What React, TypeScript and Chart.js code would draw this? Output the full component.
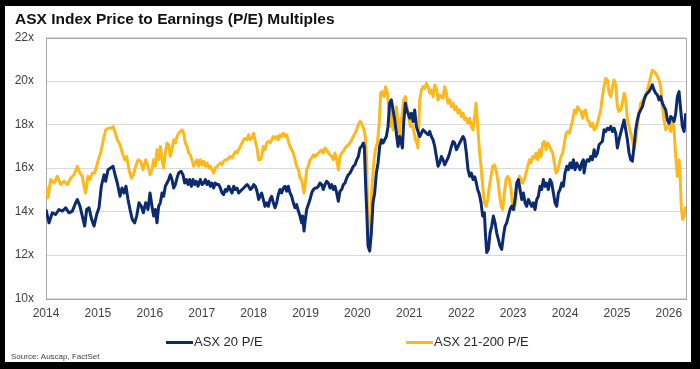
import React, { useEffect, useRef } from "react";
import { Chart, registerables } from "chart.js";

Chart.register(...registerables);

const TITLE = "ASX Index Price to Earnings (P/E) Multiples";
const SOURCE = "Source: Auscap, FactSet";
const SERIES_NAMES = ["ASX 20 P/E", "ASX 21-200 P/E"];
const SERIES_COLORS = ["#0c2a6e", "#ffb81c"];
const YEAR_TICKS = [2014, 2015, 2016, 2017, 2018, 2019, 2020, 2021, 2022, 2023, 2024, 2025, 2026];
const PE_TICKS = [10, 12, 14, 16, 18, 20, 22];
const LAST_DATE = 2026.33;

// [decimal year, P/E multiple]
const asx20: [number, number][] = [
  [2014.0, 14.09], [2014.058, 13.48], [2014.122, 13.94], [2014.186, 13.86], [2014.25, 14.09], [2014.315, 14.02],
  [2014.379, 14.17], [2014.443, 13.94], [2014.507, 14.02], [2014.572, 14.4], [2014.604, 14.55], [2014.655, 14.24],
  [2014.7, 13.79], [2014.745, 13.33], [2014.784, 14.09], [2014.829, 14.17], [2014.88, 13.63], [2014.925, 13.33],
  [2014.976, 13.86], [2015.021, 14.17], [2015.066, 15.16], [2015.118, 15.69], [2015.15, 15.39], [2015.195, 15.92],
  [2015.246, 16.0], [2015.291, 16.08], [2015.33, 15.69], [2015.374, 15.31], [2015.426, 14.7], [2015.464, 15.08],
  [2015.503, 14.85], [2015.541, 15.16], [2015.58, 14.55], [2015.619, 14.09], [2015.663, 13.63], [2015.708, 13.48],
  [2015.747, 13.79], [2015.792, 14.4], [2015.837, 14.24], [2015.875, 13.94], [2015.92, 14.4], [2015.965, 14.09],
  [2016.004, 14.85], [2016.042, 14.24], [2016.074, 13.79], [2016.106, 14.09], [2016.138, 13.48], [2016.17, 14.24],
  [2016.203, 14.4], [2016.235, 14.85], [2016.267, 14.7], [2016.299, 15.16], [2016.331, 15.31], [2016.363, 15.47],
  [2016.395, 15.69], [2016.427, 15.47], [2016.459, 15.08], [2016.492, 15.24], [2016.524, 15.54], [2016.556, 15.77],
  [2016.601, 15.85], [2016.639, 15.69], [2016.671, 15.31], [2016.704, 15.47], [2016.736, 15.24], [2016.768, 15.47],
  [2016.8, 15.16], [2016.832, 15.47], [2016.864, 15.24], [2016.896, 15.39], [2016.928, 15.16], [2016.973, 15.47],
  [2017.005, 15.24], [2017.038, 15.31], [2017.07, 15.47], [2017.102, 15.24], [2017.134, 15.39], [2017.166, 15.16],
  [2017.198, 15.31], [2017.23, 15.08], [2017.262, 15.31], [2017.294, 15.24], [2017.327, 15.24], [2017.359, 15.08],
  [2017.391, 14.85], [2017.423, 14.78], [2017.455, 15.01], [2017.487, 14.93], [2017.519, 15.16], [2017.551, 15.01],
  [2017.583, 14.85], [2017.616, 15.16], [2017.648, 15.01], [2017.68, 15.08], [2017.712, 14.85], [2017.744, 14.93],
  [2017.776, 15.01], [2017.808, 15.08], [2017.84, 15.16], [2017.872, 15.24], [2017.904, 15.16], [2017.937, 15.01],
  [2017.969, 15.08], [2018.001, 15.24], [2018.033, 15.16], [2018.065, 14.93], [2018.097, 14.55], [2018.123, 14.7],
  [2018.155, 14.85], [2018.187, 14.55], [2018.219, 14.24], [2018.251, 14.4], [2018.284, 14.24], [2018.316, 14.55],
  [2018.348, 14.7], [2018.38, 14.4], [2018.412, 14.17], [2018.444, 14.4], [2018.476, 14.78], [2018.508, 15.01],
  [2018.54, 14.85], [2018.573, 15.08], [2018.605, 15.16], [2018.637, 14.93], [2018.669, 15.16], [2018.701, 14.85],
  [2018.733, 14.7], [2018.765, 14.4], [2018.797, 14.17], [2018.829, 14.32], [2018.862, 14.02], [2018.894, 13.79],
  [2018.926, 13.48], [2018.945, 13.79], [2018.971, 13.1], [2018.996, 13.63], [2019.022, 14.09], [2019.054, 14.32],
  [2019.086, 14.55], [2019.118, 14.85], [2019.151, 15.01], [2019.183, 15.08], [2019.215, 15.08], [2019.247, 15.16],
  [2019.279, 15.31], [2019.311, 15.24], [2019.343, 15.01], [2019.375, 15.24], [2019.408, 15.39], [2019.44, 15.31],
  [2019.472, 15.08], [2019.504, 15.24], [2019.536, 15.01], [2019.568, 15.16], [2019.6, 14.85], [2019.632, 14.47],
  [2019.664, 14.93], [2019.697, 15.01], [2019.729, 15.24], [2019.761, 15.31], [2019.793, 15.54], [2019.825, 15.69],
  [2019.857, 15.77], [2019.889, 15.92], [2019.921, 16.08], [2019.953, 16.15], [2019.986, 16.38], [2020.018, 16.53],
  [2020.05, 16.92], [2020.082, 16.99], [2020.114, 17.15], [2020.133, 16.99], [2020.159, 15.16], [2020.178, 14.09],
  [2020.204, 12.41], [2020.236, 12.18], [2020.268, 13.02], [2020.3, 14.4], [2020.332, 14.85], [2020.365, 15.77],
  [2020.397, 16.23], [2020.429, 16.99], [2020.461, 17.3], [2020.493, 17.15], [2020.525, 17.3], [2020.557, 17.45],
  [2020.589, 17.91], [2020.621, 18.98], [2020.654, 19.13], [2020.686, 18.67], [2020.718, 18.21], [2020.75, 17.6],
  [2020.782, 16.99], [2020.814, 17.45], [2020.846, 17.15], [2020.866, 16.92], [2020.891, 18.06], [2020.923, 18.98],
  [2020.949, 18.67], [2020.975, 18.52], [2021.007, 18.29], [2021.039, 18.52], [2021.071, 18.14], [2021.103, 18.67],
  [2021.135, 17.91], [2021.167, 17.68], [2021.2, 17.45], [2021.232, 17.6], [2021.264, 17.76], [2021.296, 17.68],
  [2021.328, 17.6], [2021.36, 17.53], [2021.392, 17.68], [2021.424, 17.45], [2021.456, 17.3], [2021.489, 16.99],
  [2021.521, 16.53], [2021.553, 16.08], [2021.585, 16.23], [2021.617, 16.53], [2021.649, 16.38], [2021.681, 16.15],
  [2021.713, 16.31], [2021.745, 16.46], [2021.777, 16.69], [2021.81, 16.99], [2021.842, 17.22], [2021.874, 17.15],
  [2021.906, 16.84], [2021.938, 16.99], [2021.97, 17.15], [2022.002, 17.3], [2022.034, 17.45], [2022.066, 17.3],
  [2022.098, 16.69], [2022.131, 15.92], [2022.163, 15.62], [2022.195, 15.77], [2022.227, 15.47], [2022.259, 15.6],
  [2022.291, 15.3], [2022.317, 15.0], [2022.349, 14.8], [2022.381, 14.4], [2022.413, 13.79], [2022.446, 13.94],
  [2022.465, 13.02], [2022.491, 12.11], [2022.523, 12.26], [2022.555, 13.02], [2022.587, 13.33], [2022.619, 13.79],
  [2022.651, 13.48], [2022.683, 13.02], [2022.715, 12.72], [2022.747, 12.41], [2022.78, 12.26], [2022.812, 12.87],
  [2022.844, 13.33], [2022.876, 13.48], [2022.908, 13.79], [2022.94, 14.09], [2022.972, 14.24], [2023.004, 14.09],
  [2023.036, 14.55], [2023.069, 15.31], [2023.101, 15.47], [2023.133, 15.01], [2023.165, 14.55], [2023.197, 14.85],
  [2023.229, 14.4], [2023.261, 14.24], [2023.293, 14.55], [2023.325, 14.4], [2023.357, 14.24], [2023.39, 14.4],
  [2023.422, 14.09], [2023.454, 14.55], [2023.486, 14.7], [2023.518, 15.16], [2023.55, 15.01], [2023.582, 15.47],
  [2023.614, 15.16], [2023.646, 15.31], [2023.678, 15.01], [2023.711, 15.47], [2023.743, 15.31], [2023.775, 14.85],
  [2023.807, 14.4], [2023.839, 14.24], [2023.871, 14.85], [2023.903, 15.01], [2023.935, 15.31], [2023.967, 15.16],
  [2023.999, 15.77], [2024.032, 16.08], [2024.064, 15.92], [2024.096, 16.23], [2024.128, 16.0], [2024.16, 16.38],
  [2024.192, 15.92], [2024.225, 16.23], [2024.257, 16.08], [2024.289, 15.92], [2024.321, 16.23], [2024.353, 16.38],
  [2024.366, 15.77], [2024.398, 16.23], [2024.43, 16.38], [2024.462, 16.31], [2024.494, 16.53], [2024.527, 16.38],
  [2024.559, 16.84], [2024.591, 16.53], [2024.623, 16.69], [2024.655, 17.07], [2024.687, 17.15], [2024.719, 17.22],
  [2024.751, 17.76], [2024.783, 17.68], [2024.816, 17.83], [2024.848, 17.76], [2024.88, 17.91], [2024.912, 17.68],
  [2024.944, 17.83], [2024.976, 17.6], [2025.008, 16.92], [2025.04, 17.3], [2025.072, 17.6], [2025.105, 17.91],
  [2025.137, 18.21], [2025.169, 17.76], [2025.201, 17.3], [2025.233, 16.69], [2025.265, 16.38], [2025.297, 16.31],
  [2025.329, 16.99], [2025.361, 17.76], [2025.393, 18.21], [2025.425, 18.52], [2025.458, 18.67], [2025.49, 18.82],
  [2025.522, 19.13], [2025.554, 19.36], [2025.586, 19.44], [2025.618, 19.51], [2025.65, 19.66], [2025.682, 19.82],
  [2025.714, 19.59], [2025.747, 19.44], [2025.779, 19.36], [2025.811, 19.13], [2025.843, 19.28], [2025.875, 18.98],
  [2025.907, 18.82], [2025.939, 18.67], [2025.971, 18.21], [2026.004, 18.06], [2026.036, 18.37], [2026.068, 18.29],
  [2026.1, 18.14], [2026.132, 18.52], [2026.164, 19.28], [2026.196, 19.51], [2026.228, 18.67], [2026.26, 17.91],
  [2026.293, 17.68], [2026.325, 18.52],
];

const asx21to200: [number, number][] = [
  [2014.0, 15.16], [2014.039, 14.63], [2014.09, 15.47], [2014.154, 15.31], [2014.218, 15.62], [2014.283, 15.24],
  [2014.347, 15.39], [2014.411, 15.24], [2014.475, 15.54], [2014.539, 15.69], [2014.604, 16.08], [2014.655, 15.77],
  [2014.7, 15.62], [2014.732, 15.16], [2014.764, 14.85], [2014.809, 15.62], [2014.848, 15.47], [2014.893, 15.77],
  [2014.938, 15.77], [2014.976, 16.08], [2015.008, 16.38], [2015.053, 16.69], [2015.105, 17.3], [2015.15, 17.76],
  [2015.195, 17.83], [2015.246, 17.83], [2015.297, 17.91], [2015.336, 17.6], [2015.374, 17.3], [2015.426, 17.07],
  [2015.471, 16.69], [2015.516, 16.38], [2015.554, 16.53], [2015.599, 15.92], [2015.644, 15.54], [2015.683, 15.69],
  [2015.728, 16.08], [2015.773, 16.38], [2015.824, 16.31], [2015.869, 15.92], [2015.92, 16.38], [2015.965, 16.08],
  [2016.004, 15.69], [2016.042, 15.92], [2016.074, 16.38], [2016.106, 16.08], [2016.138, 16.84], [2016.17, 16.38],
  [2016.203, 16.99], [2016.235, 16.38], [2016.267, 16.0], [2016.299, 16.69], [2016.331, 17.15], [2016.363, 17.07],
  [2016.395, 16.53], [2016.427, 16.84], [2016.459, 17.3], [2016.492, 17.15], [2016.524, 17.45], [2016.556, 17.6],
  [2016.588, 17.68], [2016.62, 17.76], [2016.652, 17.6], [2016.684, 17.15], [2016.716, 16.99], [2016.748, 16.69],
  [2016.78, 16.61], [2016.812, 16.38], [2016.845, 16.08], [2016.877, 16.23], [2016.909, 16.38], [2016.941, 16.08],
  [2016.973, 16.38], [2017.005, 16.15], [2017.038, 16.31], [2017.07, 16.08], [2017.102, 16.23], [2017.134, 16.0],
  [2017.166, 16.08], [2017.198, 15.92], [2017.23, 15.77], [2017.262, 16.0], [2017.294, 16.08], [2017.327, 16.15],
  [2017.359, 16.23], [2017.391, 16.15], [2017.423, 16.31], [2017.455, 16.38], [2017.487, 16.38], [2017.519, 16.46],
  [2017.551, 16.53], [2017.583, 16.46], [2017.616, 16.61], [2017.648, 16.76], [2017.68, 16.69], [2017.712, 16.84],
  [2017.744, 16.99], [2017.776, 17.15], [2017.808, 17.3], [2017.84, 17.37], [2017.872, 17.3], [2017.904, 17.53],
  [2017.937, 17.3], [2017.969, 17.37], [2018.001, 17.6], [2018.033, 17.22], [2018.065, 16.92], [2018.097, 16.38],
  [2018.123, 16.38], [2018.155, 16.53], [2018.187, 16.99], [2018.219, 16.84], [2018.251, 17.15], [2018.284, 17.22],
  [2018.316, 17.15], [2018.348, 17.3], [2018.38, 17.45], [2018.412, 17.37], [2018.444, 17.45], [2018.476, 17.3],
  [2018.508, 17.53], [2018.54, 17.45], [2018.573, 17.6], [2018.605, 17.45], [2018.637, 17.53], [2018.669, 17.22],
  [2018.701, 16.99], [2018.733, 16.84], [2018.765, 16.69], [2018.797, 16.38], [2018.829, 16.08], [2018.862, 15.92],
  [2018.894, 15.54], [2018.926, 15.47], [2018.945, 15.16], [2018.971, 14.85], [2018.996, 15.31], [2019.022, 15.92],
  [2019.054, 16.08], [2019.086, 16.38], [2019.118, 16.46], [2019.151, 16.61], [2019.183, 16.53], [2019.215, 16.61],
  [2019.247, 16.69], [2019.279, 16.76], [2019.311, 16.84], [2019.343, 16.69], [2019.375, 16.92], [2019.408, 16.84],
  [2019.44, 16.69], [2019.472, 16.61], [2019.504, 16.53], [2019.536, 16.38], [2019.568, 16.69], [2019.6, 16.38],
  [2019.632, 15.92], [2019.664, 16.53], [2019.697, 16.69], [2019.729, 16.76], [2019.761, 16.92], [2019.793, 16.99],
  [2019.825, 17.07], [2019.857, 17.15], [2019.889, 17.3], [2019.921, 17.45], [2019.953, 17.6], [2019.986, 17.76],
  [2020.018, 17.98], [2020.05, 18.14], [2020.082, 18.06], [2020.101, 17.91], [2020.127, 17.76], [2020.152, 17.45],
  [2020.178, 16.38], [2020.204, 13.02], [2020.236, 12.49], [2020.255, 13.63], [2020.281, 15.16], [2020.32, 16.38],
  [2020.345, 16.84], [2020.384, 17.15], [2020.416, 17.91], [2020.448, 19.44], [2020.48, 19.51], [2020.512, 19.28],
  [2020.544, 19.74], [2020.577, 19.44], [2020.602, 18.82], [2020.628, 17.91], [2020.654, 18.67], [2020.686, 17.76],
  [2020.718, 17.91], [2020.75, 18.82], [2020.769, 18.37], [2020.801, 17.3], [2020.827, 18.06], [2020.859, 18.37],
  [2020.891, 19.13], [2020.923, 19.28], [2020.955, 18.82], [2020.988, 18.37], [2021.02, 17.91], [2021.052, 17.98],
  [2021.084, 17.76], [2021.116, 17.3], [2021.148, 17.15], [2021.167, 16.92], [2021.2, 19.13], [2021.232, 19.59],
  [2021.264, 19.74], [2021.296, 19.66], [2021.328, 19.89], [2021.36, 19.74], [2021.392, 19.44], [2021.424, 19.59],
  [2021.456, 19.28], [2021.489, 19.82], [2021.521, 19.66], [2021.553, 19.13], [2021.585, 19.36], [2021.617, 19.28],
  [2021.649, 19.21], [2021.681, 19.74], [2021.713, 19.44], [2021.745, 18.98], [2021.777, 19.13], [2021.81, 18.82],
  [2021.842, 18.98], [2021.874, 18.67], [2021.906, 18.82], [2021.938, 18.52], [2021.97, 18.67], [2022.002, 18.37],
  [2022.034, 18.52], [2022.066, 18.21], [2022.098, 18.29], [2022.131, 18.06], [2022.163, 18.29], [2022.195, 17.91],
  [2022.227, 17.76], [2022.259, 18.44], [2022.285, 18.98], [2022.317, 17.91], [2022.349, 16.84], [2022.381, 16.08],
  [2022.413, 15.16], [2022.446, 14.4], [2022.478, 14.24], [2022.51, 14.55], [2022.542, 15.16], [2022.574, 15.62],
  [2022.606, 16.08], [2022.638, 16.15], [2022.67, 15.92], [2022.702, 15.47], [2022.735, 14.85], [2022.767, 14.24],
  [2022.799, 14.09], [2022.831, 14.85], [2022.863, 15.47], [2022.895, 15.62], [2022.927, 15.47], [2022.959, 15.01],
  [2022.991, 14.24], [2023.023, 14.09], [2023.055, 14.55], [2023.088, 15.16], [2023.12, 15.62], [2023.152, 15.47],
  [2023.184, 15.31], [2023.216, 15.47], [2023.248, 15.77], [2023.28, 16.08], [2023.313, 16.38], [2023.345, 16.23],
  [2023.377, 16.53], [2023.409, 16.46], [2023.441, 16.69], [2023.473, 16.38], [2023.505, 16.84], [2023.537, 16.53],
  [2023.57, 17.15], [2023.602, 17.22], [2023.634, 16.84], [2023.666, 17.15], [2023.698, 16.99], [2023.73, 16.84],
  [2023.762, 16.69], [2023.794, 16.23], [2023.826, 15.77], [2023.858, 15.92], [2023.891, 16.23], [2023.923, 16.53],
  [2023.955, 16.69], [2023.987, 17.15], [2024.019, 17.6], [2024.051, 17.68], [2024.083, 17.6], [2024.115, 17.91],
  [2024.148, 18.21], [2024.18, 18.67], [2024.212, 18.52], [2024.244, 18.82], [2024.276, 18.67], [2024.308, 18.6],
  [2024.34, 18.29], [2024.366, 18.6], [2024.398, 18.67], [2024.43, 18.21], [2024.462, 18.14], [2024.494, 17.91],
  [2024.527, 18.06], [2024.559, 17.76], [2024.591, 17.83], [2024.623, 18.06], [2024.655, 18.37], [2024.687, 18.67],
  [2024.719, 19.28], [2024.751, 19.74], [2024.783, 20.12], [2024.816, 20.05], [2024.848, 19.44], [2024.88, 19.28],
  [2024.912, 19.74], [2024.944, 20.05], [2024.976, 19.82], [2025.008, 18.82], [2025.04, 18.6], [2025.072, 18.67],
  [2025.105, 18.98], [2025.137, 19.44], [2025.169, 19.13], [2025.201, 18.21], [2025.233, 17.91], [2025.265, 17.6],
  [2025.297, 17.3], [2025.329, 16.84], [2025.361, 17.3], [2025.393, 17.91], [2025.425, 18.52], [2025.458, 18.98],
  [2025.49, 19.05], [2025.522, 19.21], [2025.554, 19.28], [2025.586, 19.59], [2025.618, 19.89], [2025.65, 20.2],
  [2025.682, 20.5], [2025.714, 20.43], [2025.747, 20.35], [2025.779, 20.2], [2025.811, 20.05], [2025.843, 19.74],
  [2025.875, 18.82], [2025.907, 18.21], [2025.939, 17.76], [2025.971, 17.83], [2026.004, 18.06], [2026.036, 17.68],
  [2026.068, 18.21], [2026.1, 17.76], [2026.132, 16.53], [2026.164, 15.62], [2026.196, 16.38], [2026.215, 15.77],
  [2026.241, 14.09], [2026.267, 13.63], [2026.293, 13.79], [2026.325, 14.24],
];

const FONT = '"Liberation Sans", Arial, Helvetica, sans-serif';

// Title, plot frame, legend and source note drawn straight onto the canvas.
const framePlugin = {
  id: "frame",
  beforeDatasetsDraw(chart: any) {
    const { ctx, chartArea: a } = chart;
    ctx.save();
    ctx.strokeStyle = "#a6a6a6";
    ctx.lineWidth = 1;
    ctx.strokeRect(Math.round(a.left) + 0.5, Math.round(a.top) + 0.5, Math.round(a.right - a.left), Math.round(a.bottom - a.top));
    ctx.restore();
  },
  afterDraw(chart: any) {
    const ctx = chart.ctx;
    ctx.save();
    ctx.textBaseline = "middle";
    ctx.textAlign = "left";

    ctx.fillStyle = "#111111";
    ctx.font = `bold 15.5px ${FONT}`;
    ctx.fillText(TITLE, 10, 14);

    const legendY = 336.5;
    const legendX = [161, 401];
    ctx.font = `13px ${FONT}`;
    SERIES_NAMES.forEach((name, i) => {
      ctx.strokeStyle = SERIES_COLORS[i];
      ctx.lineWidth = 3;
      ctx.beginPath();
      ctx.moveTo(legendX[i], legendY);
      ctx.lineTo(legendX[i] + 27, legendY);
      ctx.stroke();
      ctx.fillStyle = "#262626";
      ctx.fillText(name, legendX[i] + 28, legendY);
    });

    ctx.fillStyle = "#404040";
    ctx.font = `8px ${FONT}`;
    ctx.fillText(SOURCE, 6, 351);
    ctx.restore();
  },
};

export default function App() {
  const canvasRef = useRef<HTMLCanvasElement | null>(null);

  useEffect(() => {
    const canvas = canvasRef.current;
    if (!canvas) return;
    const toPoints = (rows: [number, number][]) => rows.map(([x, y]) => ({ x, y }));
    const chart = new Chart(canvas, {
      type: "line",
      data: {
        datasets: [
          {
            label: SERIES_NAMES[1],
            data: toPoints(asx21to200),
            borderColor: SERIES_COLORS[1],
            borderWidth: 3,
            pointRadius: 0,
            tension: 0,
            borderJoinStyle: "round",
            order: 2,
          },
          {
            label: SERIES_NAMES[0],
            data: toPoints(asx20),
            borderColor: SERIES_COLORS[0],
            borderWidth: 3,
            pointRadius: 0,
            tension: 0,
            borderJoinStyle: "round",
            order: 1,
          },
        ],
      },
      options: {
        responsive: false,
        animation: false,
        parsing: false,
        layout: { padding: { top: 31.5, right: 5, bottom: 0, left: 0 } },
        plugins: {
          legend: { display: false },
          title: { display: false },
          tooltip: { enabled: false },
        },
        scales: {
          x: {
            type: "linear",
            min: 2014,
            max: LAST_DATE,
            grid: { display: false, drawTicks: false },
            border: { display: false },
            afterFit: (scale: any) => {
              scale.height = 63.5;
            },
            afterBuildTicks: (scale: any) => {
              scale.ticks = YEAR_TICKS.map((value) => ({ value }));
            },
            ticks: {
              autoSkip: false,
              maxRotation: 0,
              padding: 8,
              color: "#404040",
              font: { family: FONT, size: 12 },
              callback: (value: any) => String(value),
            },
          },
          y: {
            min: 10,
            max: 22,
            grid: { color: "#dadada", lineWidth: 1, drawTicks: false },
            border: { display: false },
            afterFit: (scale: any) => {
              scale.width = 41;
            },
            afterBuildTicks: (scale: any) => {
              scale.ticks = PE_TICKS.map((value) => ({ value }));
            },
            ticks: {
              padding: 12,
              color: "#404040",
              font: { family: FONT, size: 12 },
              callback: (value: any) => `${value}x`,
            },
          },
        },
      },
      plugins: [framePlugin],
    });
    return () => chart.destroy();
  }, []);

  return (
    <div
      style={{
        position: "fixed",
        left: 0,
        top: 0,
        width: 700,
        height: 369,
        background: "#000000",
      }}
    >
      <div
        style={{
          position: "absolute",
          left: 5,
          top: 6,
          width: 686,
          height: 356,
          background: "#ffffff",
        }}
      >
        <canvas ref={canvasRef} width={686} height={356} style={{ display: "block", width: 686, height: 356 }} />
      </div>
    </div>
  );
}
